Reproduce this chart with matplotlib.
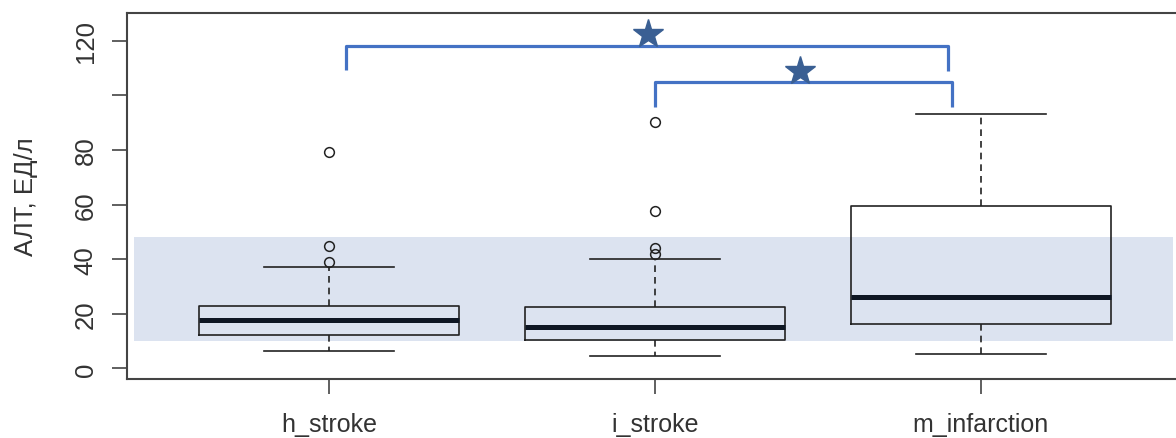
import numpy as np
import matplotlib
matplotlib.use('Agg')
import matplotlib.pyplot as plt

plt.rcParams['font.family'] = ['Liberation Sans', 'DejaVu Sans']

# данные
groups = ['h_stroke', 'i_stroke', 'm_infarction']
q1 = [12.2, 10.4, 16.4]
med = [17.8, 15.3, 26.3]
q3 = [22.9, 22.4, 59.6]
whislo = [6.4, 4.5, 5.1]
whishi = [37.1, 40.1, 93.1]
fliers = [[38.8, 45.0, 79.2], [42.0, 44.1, 57.8, 90.3], []]

# референсный интервал (полоса)
ref_low, ref_high = 9.9, 48.3
ref_x = [0.40, 3.59]

# скобки значимости: (x_left, x_right, y_top, y_left_leg, y_right_leg)
brackets = [(1.052, 2.899, 118.0, 109.3, 109.0),
            (2.0, 2.911, 104.8, 95.6, 95.7)]
stars = [(1.98, 122.5), (2.445, 109.0)]

yticks = [0, 20, 40, 60, 80, 100, 120]
ylabels = ['0', '20', '40', '60', '80', '', '120']

fig = plt.figure(figsize=(11.76, 4.39), dpi=100)
W, H = 1176, 439
ax = fig.add_axes([127 / W, 1 - 380 / H, (1183 - 127) / W, (380 - 14) / H])

ax.fill_between(ref_x, ref_low, ref_high, color='#dce3f0', lw=0, zorder=0)

stats = []
for i, g in enumerate(groups):
    stats.append(dict(label=g, q1=q1[i], med=med[i], q3=q3[i],
                      whislo=whislo[i], whishi=whishi[i], fliers=fliers[i]))

lc = '#222222'
ax.bxp(stats, positions=[1, 2, 3], widths=0.8, showfliers=True,
       boxprops=dict(color=lc, lw=1.2),
       medianprops=dict(color='#0f1724', lw=3.6, solid_capstyle='butt'),
       whiskerprops=dict(color=lc, lw=1.2, linestyle=(0, (4, 3))),
       capprops=dict(color=lc, lw=1.2),
       capwidths=0.4,
       flierprops=dict(marker='o', mfc='none', mec=lc, ms=7, mew=1.1),
       zorder=2)

for xl, xr, yt, yl, yr in brackets:
    ax.plot([xl, xl, xr, xr], [yl, yt, yt, yr], color='#4472c4', lw=2.3,
            solid_joinstyle='round', solid_capstyle='butt', zorder=3)
for sx, sy in stars:
    ax.plot(sx, sy, marker='*', color='#3a5f93', ms=22, zorder=4)

ax.set_xlim(0.38, 3.62)
ax.set_ylim(-3.9, 130.2)
ax.set_yticks(yticks)
ax.set_yticklabels(ylabels, rotation=90, va='center', fontsize=18.5, color='#333333')
ax.set_xticks([1, 2, 3])
ax.set_xticklabels(groups, fontsize=18, color='#333333')
ax.tick_params(axis='y', length=11, width=1.2, color='#444444', pad=10)
ax.tick_params(axis='x', length=11, width=1.2, color='#444444', pad=13)
for s in ax.spines.values():
    s.set_color('#444444')
    s.set_linewidth(1.5)
ax.set_ylabel('АЛТ, ЕД/л', fontsize=18.5, color='#333333', labelpad=26)

fig.savefig('out.png', dpi=100)
